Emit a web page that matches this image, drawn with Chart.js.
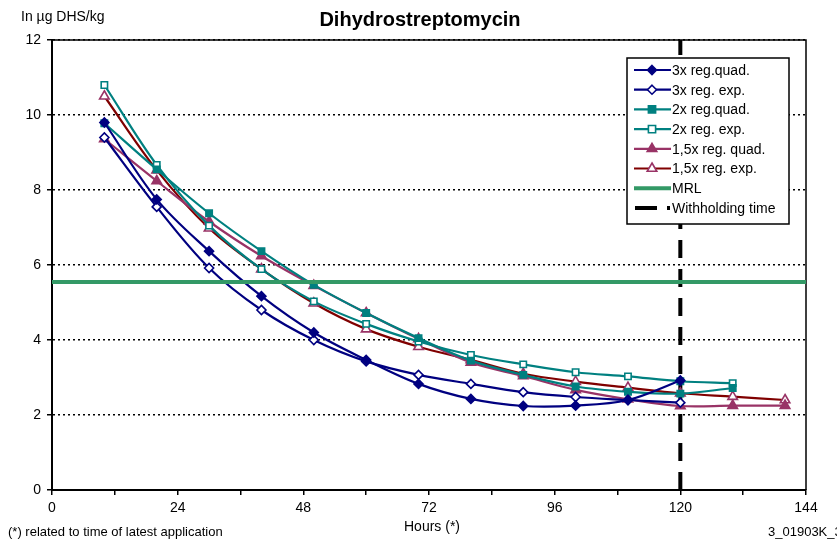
<!DOCTYPE html>
<html>
<head>
<meta charset="utf-8">
<script src="https://cdn.jsdelivr.net/npm/chart.js@4.4.1/dist/chart.umd.min.js"></script>
<style>
  html, body { margin: 0; padding: 0; background: #fff; }
</style>
</head>
<body>
<canvas id="mycanvas" width="837" height="541"></canvas>
<script>
// hours after latest application
var hours = [10, 20, 30, 40, 50, 60, 70, 80, 90, 100, 110, 120, 130, 140];

// residues in µg DHS/kg
var quad3x = [9.8, 7.75, 6.37, 5.17, 4.2, 3.47, 2.83, 2.43, 2.24, 2.25, 2.4, 2.92];
var exp3x = [9.4, 7.55, 5.92, 4.8, 4.0, 3.43, 3.07, 2.83, 2.61, 2.48, 2.4, 2.33];
var quad2x = [9.78, 8.55, 7.38, 6.37, 5.47, 4.72, 4.05, 3.45, 3.07, 2.76, 2.62, 2.57, 2.72];
var exp2x = [10.8, 8.67, 7.05, 5.89, 5.03, 4.43, 3.96, 3.6, 3.35, 3.14, 3.03, 2.9, 2.85];
var quad15x = [9.36, 8.24, 7.16, 6.24, 5.45, 4.72, 4.03, 3.4, 3.04, 2.67, 2.42, 2.24, 2.25, 2.25];
var exp15x = [10.5, 8.53, 6.98, 5.89, 4.98, 4.29, 3.82, 3.47, 3.1, 2.89, 2.73, 2.58, 2.49, 2.4];

var mrl = 5.55;
var withholdingTime = 120;

var xTicks = [0, 24, 48, 72, 96, 120, 144];
var yTicks = [0, 2, 4, 6, 8, 10, 12];

var seriesNames = ['3x reg.quad.', '3x reg. exp.', '2x reg.quad.', '2x reg. exp.',
  '1,5x reg. quad.', '1,5x reg. exp.', 'MRL', 'Withholding time'];

function pts(values) {
  var out = [];
  for (var i in values) {
    out.push({x: hours[i], y: values[i]});
  }
  return out;
}

var navy = '#000080', teal = '#008080', plum = '#993366', darkred = '#800000', green = '#339966';

function curve(label, values, line, marker, style, filled, radius) {
  return {
    label: label,
    data: pts(values),
    borderColor: line,
    borderWidth: 2.2,
    tension: 0.35,
    pointStyle: style,
    pointRadius: radius,
    pointBorderColor: marker,
    pointBackgroundColor: filled ? marker : '#ffffff',
    pointBorderWidth: 1.6,
    order: 1
  };
}

var chartdata = {
  datasets: [
    curve(seriesNames[0], quad3x, navy, navy, 'rectRot', true, 4.5),
    curve(seriesNames[1], exp3x, navy, navy, 'rectRot', false, 4.5),
    curve(seriesNames[2], quad2x, teal, teal, 'rect', true, 4.5),
    curve(seriesNames[3], exp2x, teal, teal, 'rect', false, 4.5),
    curve(seriesNames[4], quad15x, plum, plum, 'triangle', true, 5.5),
    curve(seriesNames[5], exp15x, darkred, plum, 'triangle', false, 5.5),
    {
      label: seriesNames[6],
      data: [{x: xTicks[0], y: mrl}, {x: xTicks[xTicks.length - 1], y: mrl}],
      borderColor: green,
      borderWidth: 4,
      pointRadius: 0,
      order: 0
    },
    {
      label: seriesNames[7],
      data: [{x: withholdingTime, y: yTicks[0]}, {x: withholdingTime, y: yTicks[yTicks.length - 1]}],
      borderColor: '#000000',
      borderWidth: 4,
      borderDash: [18, 11],
      pointRadius: 0,
      order: 2
    }
  ]
};

// frame, titles, notes and the boxed legend
var decorations = {
  id: 'decorations',
  beforeDatasetsDraw: function(chart) {
    var ctx = chart.ctx, a = chart.chartArea;
    ctx.save();
    ctx.strokeStyle = '#000';
    ctx.lineWidth = 1.5;
    ctx.beginPath();
    ctx.moveTo(a.left, a.top);
    ctx.lineTo(a.right, a.top);
    ctx.lineTo(a.right, a.bottom);
    ctx.stroke();
    ctx.restore();
  },
  afterDraw: function(chart) {
    var ctx = chart.ctx;
    ctx.save();
    ctx.fillStyle = '#000';
    ctx.textBaseline = 'middle';

    ctx.textAlign = 'center';
    ctx.font = 'bold 20px "Liberation Sans", Arial, sans-serif';
    ctx.fillText('Dihydrostreptomycin', 420, 20);

    ctx.textAlign = 'left';
    ctx.font = '14px "Liberation Sans", Arial, sans-serif';
    ctx.fillText('In µg DHS/kg', 21, 17);

    ctx.font = '13px "Liberation Sans", Arial, sans-serif';
    ctx.fillText('(*) related to time of latest application', 8, 532);
    ctx.fillText('3_01903K_3', 768, 532);
    ctx.textAlign = 'center';
    ctx.font = '14px "Liberation Sans", Arial, sans-serif';
    ctx.fillText('Hours (*)', 432, 527);

    // legend
    var lx = 627, ly = 58, lw = 162, lh = 166, step = 19.7;
    ctx.fillStyle = '#fff';
    ctx.fillRect(lx, ly, lw, lh);
    ctx.strokeStyle = '#000';
    ctx.lineWidth = 1.5;
    ctx.strokeRect(lx, ly, lw, lh);
    ctx.font = '14px "Liberation Sans", Arial, sans-serif';
    ctx.textAlign = 'left';
    var ds = chart.data.datasets;
    for (var i = 0; i < ds.length; i++) {
      var d = ds[i];
      var y = ly + 12 + i * step;
      ctx.strokeStyle = d.borderColor;
      ctx.lineWidth = d.borderWidth > 3 ? 4 : 2.2;
      ctx.setLineDash([]);
      ctx.beginPath();
      if (d.borderDash) {
        ctx.moveTo(lx + 8, y); ctx.lineTo(lx + 30, y);
        ctx.moveTo(lx + 40, y); ctx.lineTo(lx + 43, y);
      } else {
        ctx.moveTo(lx + 7, y); ctx.lineTo(lx + 44, y);
      }
      ctx.stroke();
      if (d.pointRadius > 0) {
        drawMarker(ctx, d.pointStyle, lx + 25, y, d.pointRadius, d.pointBorderColor, d.pointBackgroundColor);
      }
      ctx.fillStyle = '#000';
      ctx.fillText(d.label, lx + 45, y + 1);
    }
    ctx.restore();
  }
};

function drawMarker(ctx, style, x, y, r, stroke, fill) {
  ctx.beginPath();
  if (style === 'rectRot') {
    ctx.moveTo(x, y - r); ctx.lineTo(x + r, y); ctx.lineTo(x, y + r); ctx.lineTo(x - r, y);
  } else if (style === 'rect') {
    var s = r * 0.8;
    ctx.rect(x - s, y - s, 2 * s, 2 * s);
  } else {
    ctx.moveTo(x, y - r); ctx.lineTo(x + r * 0.87, y + r * 0.5); ctx.lineTo(x - r * 0.87, y + r * 0.5);
  }
  ctx.closePath();
  ctx.fillStyle = fill;
  ctx.fill();
  ctx.strokeStyle = stroke;
  ctx.lineWidth = 1.6;
  ctx.stroke();
}

var ctx = document.getElementById('mycanvas');
Chart.defaults.font.family = '"Liberation Sans", Arial, sans-serif';
Chart.defaults.color = '#000';

var lineGraph = new Chart(ctx, {
  type: 'line',
  data: chartdata,
  plugins: [decorations],
  options: {
    responsive: false,
    animation: false,
    layout: { padding: { top: 40, right: 31, left: 0, bottom: 0 } },
    plugins: {
      legend: { display: false },
      tooltip: { enabled: false }
    },
    scales: {
      x: {
        type: 'linear',
        min: xTicks[0],
        max: xTicks[xTicks.length - 1],
        afterBuildTicks: function(scale) {
          var t = [];
          for (var v = xTicks[0]; v <= xTicks[xTicks.length - 1]; v += 12) t.push({value: v});
          scale.ticks = t;
        },
        afterFit: function(scale) { scale.height = 51; },
        ticks: {
          autoSkip: false,
          maxRotation: 0,
          padding: 5,
          font: { size: 14 },
          callback: function(v) { return xTicks.indexOf(v) >= 0 ? String(v) : ''; }
        },
        grid: { drawOnChartArea: false, drawTicks: true, tickLength: 5, color: '#000', lineWidth: 1.5 },
        border: { display: true, color: '#000', width: 2 }
      },
      y: {
        type: 'linear',
        min: yTicks[0],
        max: yTicks[yTicks.length - 1],
        afterBuildTicks: function(scale) {
          scale.ticks = yTicks.map(function(v) { return {value: v}; });
        },
        afterFit: function(scale) { scale.width = 52; },
        ticks: { padding: 6, font: { size: 14 } },
        grid: { drawTicks: true, tickLength: 5, color: '#000', lineWidth: 1.5, tickBorderDash: [] },
        border: { display: true, color: '#000', width: 2, dash: [2, 3] }
      }
    }
  }
});
</script>
</body>
</html>
